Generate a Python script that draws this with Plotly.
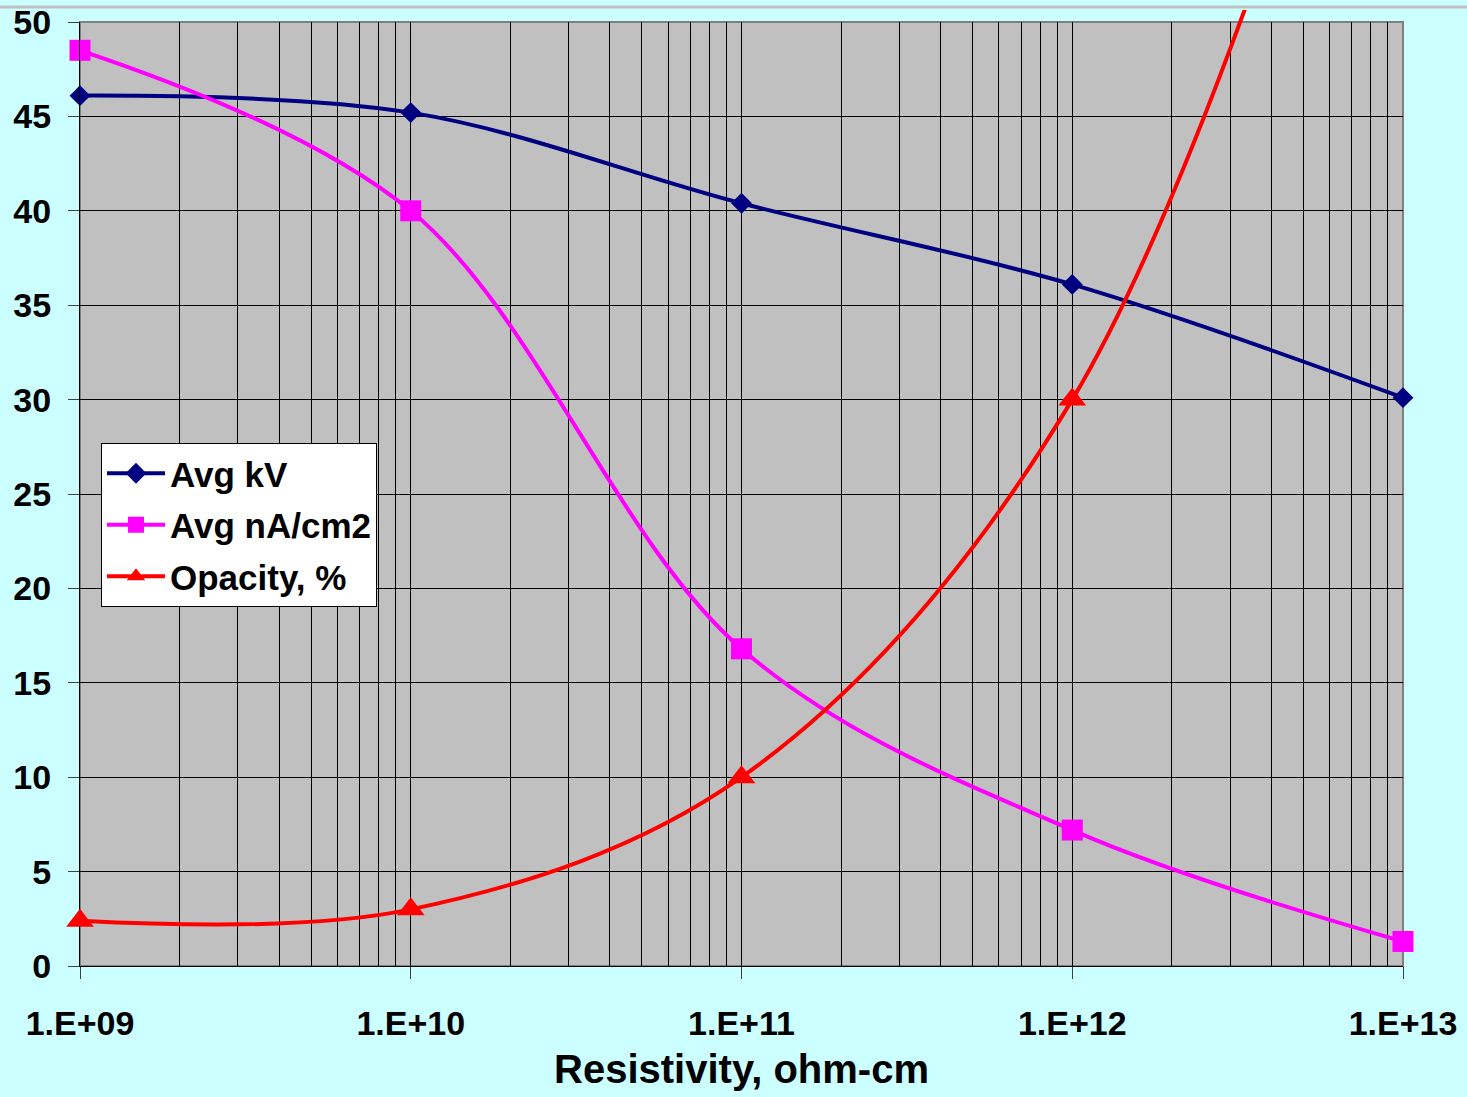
import plotly.graph_objects as go

# Resistivity (ohm-cm) and measured series
resistivity = [1e9, 1e10, 1e11, 1e12, 1e13]
avg_kv = [46.1, 45.2, 40.4, 36.1, 30.1]
avg_na_cm2 = [48.5, 40.0, 16.8, 7.2, 1.3]
opacity_pct = [2.4, 3.0, 10.0, 30.0, 76.0]

x_tick_vals = [1e9, 1e10, 1e11, 1e12, 1e13]
x_tick_text = ["1.E+09", "1.E+10", "1.E+11", "1.E+12", "1.E+13"]
y_tick_vals = [0, 5, 10, 15, 20, 25, 30, 35, 40, 45, 50]

FONT = "Liberation Sans"
BG = "#CCFFFF"
PLOT_BG = "#C0C0C0"

W, H = 1467, 1097
M_L, M_R, M_T, M_B = 80, 64, 10, 131
plot_w = W - M_L - M_R
plot_h = H - M_T - M_B            # full drawing band (lets the red curve run above the frame)
frame_top_px = 22                  # top of the gray frame
y_top_frac = (H - M_B - frame_top_px) / plot_h
Y_MAX = 50
# tiny pad so the end markers at 1e9 / 1e13 are not treated as out of range
X_RANGE = [9 - 1e-7, 13 + 1e-7]

fig = go.Figure()

fig.add_trace(go.Scatter(
    x=resistivity, y=avg_kv, name="Avg kV", mode="lines+markers",
    line=dict(color="#000080", width=4, shape="spline", smoothing=1.0),
    marker=dict(symbol="diamond", size=16, color="#000080"),
    legendgroup="a", xaxis="x", yaxis="y", cliponaxis=False,
))
fig.add_trace(go.Scatter(
    x=resistivity, y=avg_na_cm2, name="Avg nA/cm2", mode="lines+markers",
    line=dict(color="#FF00FF", width=4, shape="spline", smoothing=1.0),
    marker=dict(symbol="square", size=21, color="#FF00FF"),
    legendgroup="b", xaxis="x", yaxis="y", cliponaxis=False,
))
fig.add_trace(go.Scatter(
    x=resistivity, y=opacity_pct, name="Opacity, %", mode="lines+markers",
    line=dict(color="#FF0000", width=4, shape="spline", smoothing=1.0),
    marker=dict(symbol="triangle-up", size=24, color="#FF0000"),
    legendgroup="c", xaxis="x2", yaxis="y2", cliponaxis=False,
))

tick_font = dict(family=FONT, size=34, color="black", weight="bold")

fig.update_layout(
    width=W, height=H,
    margin=dict(l=M_L, r=M_R, t=M_T, b=M_B, autoexpand=False),
    paper_bgcolor=BG,
    plot_bgcolor="rgba(0,0,0,0)",
    font=dict(family=FONT, color="black"),
    showlegend=True,
    legend=dict(
        x=(101 - M_L) / plot_w, y=(H - M_B - 443) / plot_h,
        xanchor="left", yanchor="top",
        bgcolor="white", bordercolor="black", borderwidth=1,
        font=dict(family=FONT, size=35, color="black", weight="bold"),
        itemwidth=58, tracegroupgap=3,
    ),
    xaxis=dict(
        type="log", range=X_RANGE, domain=[0, 1], anchor="y", automargin=False,
        tickmode="array", tickvals=x_tick_vals, ticktext=x_tick_text,
        tickfont=tick_font, ticks="outside", ticklen=12, tickcolor="#404040",
        ticklabelstandoff=15,
        showgrid=True, gridcolor="#000000", gridwidth=1,
        minor=dict(dtick="D1", showgrid=True, gridcolor="#000000", gridwidth=1, ticks=""),
        showline=True, linecolor="#000000", linewidth=1,
        zeroline=False,
        title=dict(text="<b>Resistivity, ohm-cm</b>",
                   font=dict(family=FONT, size=40, color="black"), standoff=14),
    ),
    yaxis=dict(
        range=[0, Y_MAX], domain=[0, y_top_frac], anchor="x", automargin=False,
        tickmode="array", tickvals=y_tick_vals,
        tickfont=tick_font, ticks="outside", ticklen=11, tickcolor="#404040",
        showgrid=True, gridcolor="#000000", gridwidth=1,
        showline=True, linecolor="#000000", linewidth=1,
        zeroline=False, ticklabelstandoff=10,
    ),
    xaxis2=dict(type="log", range=X_RANGE, domain=[0, 1], anchor="y2",
                visible=False, showgrid=False, automargin=False),
    yaxis2=dict(range=[0, Y_MAX / y_top_frac], domain=[0, 1], anchor="x2",
                visible=False, showgrid=False, automargin=False),
)

# gray frame behind the grid
fig.add_shape(type="rect", xref="paper", yref="paper",
              x0=0, x1=1, y0=0, y1=y_top_frac,
              fillcolor=PLOT_BG, line=dict(color="#808080", width=2), layer="below")
# thin rule under the heading band
rule_y = (H - M_B - 7) / plot_h
fig.add_shape(type="line", xref="paper", yref="paper",
              x0=-M_L / plot_w, x1=(W - M_L) / plot_w,
              y0=rule_y, y1=rule_y, line=dict(color="#C0C0C0", width=3), layer="below")

fig.write_html("out.html")
